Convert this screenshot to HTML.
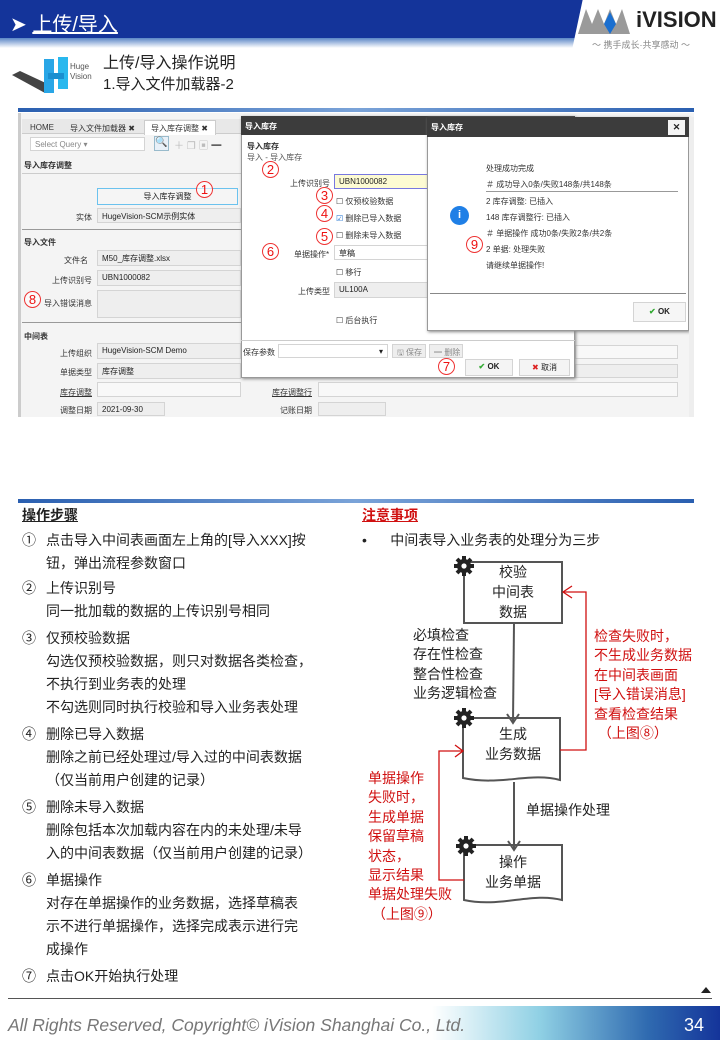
<!DOCTYPE html>
<html><head><meta charset="utf-8"><style>
*{margin:0;padding:0;box-sizing:border-box}
body{width:720px;height:1040px;position:relative;background:#fff;font-family:"Liberation Sans","Noto Sans CJK SC",sans-serif;overflow:hidden;color:#222}
.a{position:absolute;white-space:nowrap}
.s{font-size:8px;color:#333}
.fld{position:absolute;background:#eee;border:1px solid #d4d4d4;font-size:8px;padding:2px 4px;color:#222;white-space:nowrap}
.c{position:absolute;border:1px solid #e33;border-radius:50%;color:#e11;font-size:13px;text-align:center;line-height:15px;width:17px;height:17px;background:rgba(255,255,255,.6)}
.t{font-size:14px;line-height:23px}
.r{color:#d01010}
</style></head><body>
<!-- header -->
<div class="a" style="left:0;top:0;width:720px;height:38px;background:#14349a"></div>
<div class="a" style="left:0;top:38px;width:720px;height:10px;background:linear-gradient(#5a86c6,#fff)"></div>
<div class="a" style="left:572px;top:0;width:150px;height:50px;background:#fff;transform:skewX(-12deg);transform-origin:0 50px"></div>
<div class="a" style="left:10px;top:8px;color:#fff;font-size:20px">➤ <span style="text-decoration:underline">上传/导入</span></div>
<svg class="a" style="left:578px;top:4px" width="60" height="34"><polygon points="0,30 8,5 14,20 20,5 26,20 32,5 38,20 44,5 52,30" fill="#9a9a9a"/><polygon points="26,20 32,8 38,20 32,30" fill="#1a6fd0"/></svg>
<div class="a" style="left:636px;top:7px;font-size:22px;font-weight:bold;color:#222;letter-spacing:0px">iVISION</div>
<div class="a" style="left:592px;top:38px;font-size:9px;color:#888">～ 携手成长·共享感动 ～</div>
<!-- logo -->
<svg class="a" style="left:10px;top:55px" width="62" height="40"><polygon points="2,20 35,38 40,30 10,16" fill="#444"/><rect x="34" y="4" width="10" height="34" fill="#29a6e6"/><rect x="48" y="2" width="10" height="32" fill="#29b8ee"/><rect x="38" y="18" width="16" height="6" fill="#1a8fd0"/></svg>
<div class="a" style="left:70px;top:62px;font-size:8px;color:#555;line-height:10px">Huge<br>Vision</div>
<div class="a" style="left:103px;top:49px;font-size:16px;color:#222">上传/导入操作说明</div>
<div class="a" style="left:103px;top:73px;font-size:15px;color:#222">1.导入文件加载器-2</div>
<!-- screenshot -->
<div class="a" style="left:18px;top:108px;width:676px;height:4px;background:linear-gradient(90deg,#2a5fb0,#7aa3d8,#2a5fb0)"></div>
<div class="a" style="left:18px;top:113px;width:676px;height:304px;background:#f4f4f4;border-left:3px solid #ccc"></div>
<div class="a" style="left:22px;top:119px;width:220px;height:15px;background:#e8e8e8;border-bottom:1px solid #ccc"></div>
<div class="a s" style="left:30px;top:123px">HOME</div>
<div class="a s" style="left:70px;top:123px">导入文件加载器 ✖</div>
<div class="a" style="left:144px;top:120px;width:72px;height:15px;background:#fff;border:1px solid #ccc;border-bottom:none"></div>
<div class="a s" style="left:151px;top:123px">导入库存调整 ✖</div>
<div class="fld" style="left:30px;top:137px;width:115px;height:14px;background:#fff;color:#888">Select Query ▾</div>
<div class="a" style="left:154px;top:136px;width:15px;height:15px;border:1px solid #9bc;background:#e8f0f8;font-size:10px;text-align:center">🔍</div>
<div class="a s" style="left:174px;top:137px;color:#bbb;font-size:10px">＋ ❐ ▣ <b style="color:#222">━</b></div>
<div class="a s" style="left:24px;top:160px;font-weight:bold">导入库存调整</div>
<div class="a" style="left:22px;top:173px;width:219px;height:1px;background:#ccc"></div>
<div class="a" style="left:97px;top:188px;width:141px;height:17px;border:1px solid #6bc2ee;background:#f5f5f5;font-size:8px;text-align:center;line-height:15px">导入库存调整</div>
<div class="c" style="left:196px;top:181px">1</div>
<div class="a s" style="left:76px;top:212px">实体</div>
<div class="fld" style="left:97px;top:208px;width:144px;height:15px">HugeVision-SCM示例实体</div>
<div class="a" style="left:22px;top:229px;width:219px;height:1px;background:#999"></div>
<div class="a s" style="left:24px;top:237px;font-weight:bold">导入文件</div>
<div class="a s" style="left:64px;top:255px">文件名</div>
<div class="fld" style="left:97px;top:250px;width:144px;height:16px">M50_库存调整.xlsx</div>
<div class="a s" style="left:52px;top:275px">上传识别号</div>
<div class="fld" style="left:97px;top:270px;width:144px;height:16px">UBN1000082</div>
<div class="c" style="left:24px;top:291px">8</div>
<div class="a s" style="left:44px;top:298px">导入错误消息</div>
<div class="fld" style="left:97px;top:290px;width:144px;height:28px"></div>
<div class="a" style="left:22px;top:322px;width:219px;height:1px;background:#999"></div>
<div class="a s" style="left:24px;top:331px;font-weight:bold">中间表</div>
<div class="a s" style="left:60px;top:348px">上传组织</div>
<div class="fld" style="left:97px;top:343px;width:144px;height:16px">HugeVision-SCM Demo</div>
<div class="a s" style="left:60px;top:367px">单据类型</div>
<div class="fld" style="left:97px;top:363px;width:144px;height:16px">库存调整</div>
<div class="a s" style="left:60px;top:387px;text-decoration:underline">库存调整</div>
<div class="fld" style="left:97px;top:382px;width:144px;height:15px;background:#f8f8f8"></div>
<div class="a s" style="left:272px;top:387px;text-decoration:underline">库存调整行</div>
<div class="fld" style="left:318px;top:382px;width:360px;height:15px;background:#f8f8f8"></div>
<div class="a s" style="left:60px;top:405px">调整日期</div>
<div class="fld" style="left:97px;top:402px;width:68px;height:14px">2021-09-30</div>
<div class="a s" style="left:280px;top:405px">记账日期</div>
<div class="fld" style="left:318px;top:402px;width:68px;height:14px"></div>
<div class="fld" style="left:575px;top:345px;width:103px;height:14px;background:#f8f8f8"></div>
<div class="fld" style="left:575px;top:364px;width:103px;height:14px"></div>
<!-- dialog 1 -->
<div class="a" style="left:241px;top:116px;width:334px;height:262px;background:#fff;border:1px solid #999;box-shadow:1px 1px 3px #888"></div>
<div class="a" style="left:241px;top:116px;width:334px;height:19px;background:#3c3c3c"></div>
<div class="a s" style="left:245px;top:121px;color:#fff;font-weight:bold">导入库存</div>
<div class="a s" style="left:247px;top:141px;font-weight:bold">导入库存</div>
<div class="a s" style="left:247px;top:152px;color:#555">导入 - 导入库存</div>
<div class="c" style="left:262px;top:161px">2</div>
<div class="a s" style="left:290px;top:178px">上传识别号</div>
<div class="fld" style="left:334px;top:174px;width:95px;height:15px;background:#fdfbd3;border-color:#7878e0">UBN1000082</div>
<div class="c" style="left:316px;top:187px">3</div>
<div class="a s" style="left:336px;top:196px">☐ 仅预校验数据</div>
<div class="c" style="left:316px;top:205px">4</div>
<div class="a s" style="left:336px;top:213px"><span style="color:#1a6fd0">☑</span> 删除已导入数据</div>
<div class="c" style="left:316px;top:228px">5</div>
<div class="a s" style="left:336px;top:230px">☐ 删除未导入数据</div>
<div class="c" style="left:262px;top:243px">6</div>
<div class="a s" style="left:294px;top:249px">单据操作*</div>
<div class="fld" style="left:334px;top:245px;width:95px;height:15px;background:#fff">草稿</div>
<div class="a s" style="left:336px;top:267px">☐ 移行</div>
<div class="a s" style="left:298px;top:286px">上传类型</div>
<div class="fld" style="left:334px;top:282px;width:95px;height:16px">UL100A</div>
<div class="a s" style="left:336px;top:315px">☐ 后台执行</div>
<div class="a" style="left:241px;top:340px;width:334px;height:1px;background:#ccc"></div>
<div class="a s" style="left:243px;top:347px">保存参数</div>
<div class="fld" style="left:278px;top:344px;width:110px;height:14px;background:#fff;text-align:right">▾</div>
<div class="fld" style="left:392px;top:344px;width:34px;height:14px;color:#888">🖫 保存</div>
<div class="fld" style="left:429px;top:344px;width:34px;height:14px;color:#888">━ 删除</div>
<div class="c" style="left:438px;top:358px">7</div>
<div class="fld" style="left:465px;top:359px;width:48px;height:17px;background:#f4f4f4;font-weight:bold;text-align:center"><span style="color:#3a3">✔</span> OK</div>
<div class="fld" style="left:519px;top:359px;width:51px;height:17px;background:#f4f4f4;text-align:center"><span style="color:#d22">✖</span> 取消</div>
<!-- dialog 2 -->
<div class="a" style="left:427px;top:117px;width:262px;height:214px;background:#fff;border:1px solid #999;box-shadow:1px 1px 3px #888"></div>
<div class="a" style="left:427px;top:117px;width:262px;height:20px;background:#3c3c3c"></div>
<div class="a s" style="left:431px;top:122px;color:#fff;font-weight:bold">导入库存</div>
<div class="a" style="left:668px;top:120px;width:17px;height:15px;background:#f4f4f4;font-size:9px;text-align:center;line-height:15px;font-weight:bold">✕</div>
<div class="a" style="left:450px;top:206px;width:19px;height:19px;border-radius:50%;background:#1f7fe6;color:#fff;font-size:11px;text-align:center;line-height:19px;font-weight:bold">i</div>
<div class="a s" style="left:486px;top:163px">处理成功完成</div>
<div class="a s" style="left:486px;top:179px">＃ 成功导入0条/失败148条/共148条</div>
<div class="a" style="left:486px;top:191px;width:192px;height:1px;background:#999"></div>
<div class="a s" style="left:486px;top:196px">2 库存调整: 已插入</div>
<div class="a s" style="left:486px;top:212px">148 库存调整行: 已插入</div>
<div class="a s" style="left:486px;top:228px">＃ 单据操作 成功0条/失败2条/共2条</div>
<div class="c" style="left:466px;top:236px">9</div>
<div class="a s" style="left:486px;top:244px">2 单据: 处理失败</div>
<div class="a s" style="left:486px;top:260px">请继续单据操作!</div>
<div class="a" style="left:430px;top:293px;width:256px;height:1px;background:#888"></div>
<div class="fld" style="left:633px;top:302px;width:53px;height:20px;background:#f6f6f6;font-weight:bold;text-align:center;line-height:14px"><span style="color:#3a3">✔</span> OK</div>
<div class="a" style="left:689px;top:117px;width:5px;height:300px;background:#eee"></div>
<!-- lower separator -->
<div class="a" style="left:18px;top:499px;width:676px;height:4px;background:linear-gradient(90deg,#2a5fb0,#7aa3d8,#2a5fb0)"></div>
<!-- left text -->
<div class="a" style="left:22px;top:505px;font-size:14px;font-weight:bold;text-decoration:underline">操作步骤</div>
<div class="a t" style="left:22px;top:529px">①</div><div class="a t" style="left:46px;top:529px">点击导入中间表画面左上角的[导入XXX]按<br>钮，弹出流程参数窗口</div>
<div class="a t" style="left:22px;top:577px">②</div><div class="a t" style="left:46px;top:577px">上传识别号<br>同一批加载的数据的上传识别号相同</div>
<div class="a t" style="left:22px;top:627px">③</div><div class="a t" style="left:46px;top:627px">仅预校验数据<br>勾选仅预校验数据，则只对数据各类检查，<br>不执行到业务表的处理<br>不勾选则同时执行校验和导入业务表处理</div>
<div class="a t" style="left:22px;top:723px">④</div><div class="a t" style="left:46px;top:723px">删除已导入数据<br>删除之前已经处理过/导入过的中间表数据<br>（仅当前用户创建的记录）</div>
<div class="a t" style="left:22px;top:796px">⑤</div><div class="a t" style="left:46px;top:796px">删除未导入数据<br>删除包括本次加载内容在内的未处理/未导<br>入的中间表数据（仅当前用户创建的记录）</div>
<div class="a t" style="left:22px;top:869px">⑥</div><div class="a t" style="left:46px;top:869px">单据操作<br>对存在单据操作的业务数据，选择草稿表<br>示不进行单据操作，选择完成表示进行完<br>成操作</div>
<div class="a t" style="left:22px;top:965px">⑦</div><div class="a t" style="left:46px;top:965px">点击OK开始执行处理</div>
<!-- right -->
<div class="a r" style="left:362px;top:505px;font-size:14px;font-weight:bold;text-decoration:underline">注意事项</div>
<div class="a t" style="left:362px;top:529px">•&nbsp;&nbsp;&nbsp;&nbsp;&nbsp;&nbsp;中间表导入业务表的处理分为三步</div>
<svg class="a" style="left:360px;top:550px" width="360" height="380">
<defs><g id="gear"><circle r="7" fill="#222"/><g stroke="#222" stroke-width="4"><line x1="0" y1="-10" x2="0" y2="10"/><line x1="-10" y1="0" x2="10" y2="0"/><line x1="-7" y1="-7" x2="7" y2="7"/><line x1="-7" y1="7" x2="7" y2="-7"/></g><circle r="2.6" fill="#fff"/></g></defs>
<g fill="none" stroke="#555" stroke-width="2">
<rect x="104" y="12" width="98" height="61" fill="#fff"/>
<path d="M103,168 H200 V230 C170,222 140,236 103,228 Z" fill="#fff"/>
<path d="M104,295 H202 V350 C172,342 140,358 104,350 Z" fill="#fff"/>
<line x1="154" y1="73" x2="153" y2="172"/><polyline points="147,164 153,173 159,164"/>
<line x1="154" y1="232" x2="154" y2="300"/><polyline points="148,291 154,300 160,291"/>
</g>
<g fill="none" stroke="#d01010" stroke-width="1.3">
<polyline points="200,200 226,200 226,42 204,42"/><polyline points="212,36 203,42 212,48"/>
<polyline points="104,330 79,330 79,201 103,201"/><polyline points="95,195 103,201 95,207"/>
</g>
<use href="#gear" x="104" y="16"/><use href="#gear" x="104" y="168"/><use href="#gear" x="106" y="296"/>
</svg>
<div class="a" style="left:464px;top:562px;width:98px;text-align:center;font-size:14px;line-height:20px">校验<br>中间表<br>数据</div>
<div class="a" style="left:413px;top:626px;font-size:14px;line-height:19.3px">必填检查<br>存在性检查<br>整合性检查<br>业务逻辑检查</div>
<div class="a" style="left:464px;top:724px;width:98px;text-align:center;font-size:14px;line-height:20px">生成<br>业务数据</div>
<div class="a" style="left:526px;top:800px;font-size:14px">单据操作处理</div>
<div class="a" style="left:464px;top:852px;width:98px;text-align:center;font-size:14px;line-height:20px">操作<br>业务单据</div>
<div class="a r" style="left:594px;top:627px;font-size:14px;line-height:19.4px">检查失败时，<br>不生成业务数据<br>在中间表画面<br>[导入错误消息]<br>查看检查结果<br>&nbsp;（上图⑧）</div>
<div class="a r" style="left:368px;top:769px;font-size:14px;line-height:19.4px">单据操作<br>失败时，<br>生成单据<br>保留草稿<br>状态，<br>显示结果<br>单据处理失败<br>&nbsp;（上图⑨）</div>
<!-- footer -->
<div class="a" style="left:8px;top:998px;width:704px;height:1px;background:#555"></div>
<div class="a" style="left:701px;top:987px;width:0;height:0;border-left:5px solid transparent;border-right:5px solid transparent;border-bottom:6px solid #222"></div>
<div class="a" style="left:360px;top:1006px;width:360px;height:34px;background:linear-gradient(90deg,#fff 0%,#fff 20%,#8fd0e4 50%,#2f6ab0 80%,#14349a 100%)"></div>
<div class="a" style="left:8px;top:1015px;font-size:17.5px;font-style:italic;color:#777">All Rights Reserved, Copyright© iVision Shanghai Co., Ltd.</div>
<div class="a" style="left:684px;top:1015px;font-size:18px;color:#fff">34</div>
</body></html>
